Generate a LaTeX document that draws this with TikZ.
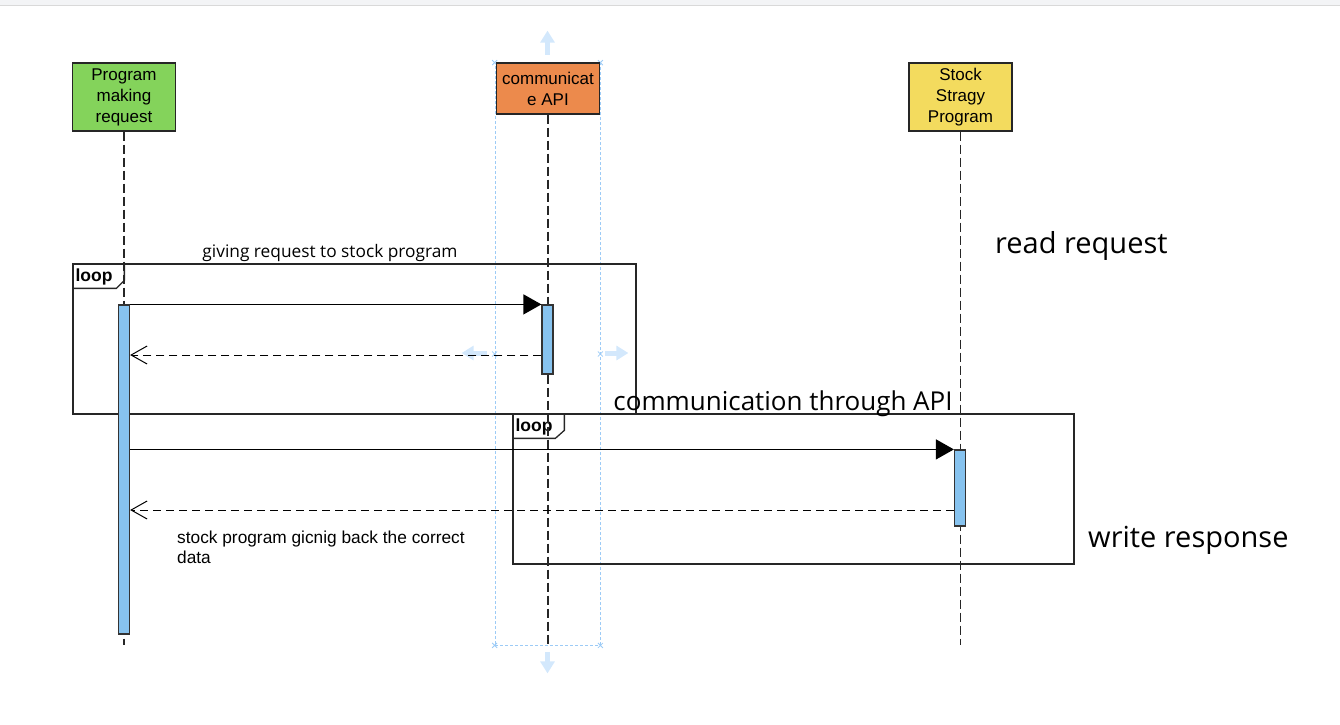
\documentclass[tikz,border=0pt]{standalone}
\usepackage{fontspec}
\setmainfont{Liberation Sans}
\newfontfamily\opensans{Open Sans}
\usepackage{xcolor}
\usetikzlibrary{arrows.meta,positioning}

\definecolor{progreen}{HTML}{84D35B}
\definecolor{apiorange}{HTML}{EC8A4C}
\definecolor{stockyellow}{HTML}{F3DB5E}
\definecolor{barblue}{HTML}{87C3EF}
\definecolor{selblue}{HTML}{9CCBF6}
\definecolor{gripblue}{HTML}{D3E8FC}
\definecolor{topgray}{HTML}{F3F4F6}

\begin{document}
\begin{tikzpicture}[x=1pt,y=-1pt,
	head/.style={draw=black!85, line width=1.3pt, minimum width=103, minimum height=68, inner sep=0pt, align=center, font=\fontsize{17}{21}\selectfont},
	bar/.style={draw=black!80, line width=1.2pt, fill=barblue, minimum width=11, inner sep=0pt},
	life/.style={black!85, line width=1.2pt, dash pattern=on 9pt off 4pt},
	frame/.style={draw=black!85, line width=1.3pt, inner sep=0pt},
	looptag/.style={inner sep=0pt, anchor=west, font=\fontsize{17.5}{19}\selectfont\bfseries},
	call/.style={black, line width=1.2pt, -{Triangle[length=18,width=20]}},
	reply/.style={black, line width=1pt, dash pattern=on 8pt off 5pt, -{Straight Barb[length=16,width=18]}},
	bigtext/.style={inner sep=0pt, font=\opensans\fontsize{29}{34}\selectfont},
	apitext/.style={inner sep=0pt, font=\opensans\fontsize{26}{30}\selectfont},
	midtext/.style={inner sep=0pt, font=\opensans\fontsize{17.3}{20}\selectfont},
	plaintext/.style={inner sep=0pt, align=left, font=\fontsize{17.3}{19.5}\selectfont},
	select/.style={draw=selblue, line width=0.8pt, dash pattern=on 3pt off 2pt, inner sep=0pt},
	grip/.style={draw=gripblue, line width=5pt, -{Triangle[length=12,width=14]}}]
	\useasboundingbox (0,0) rectangle (1340,724);
	\fill[topgray] (0,0) rectangle (1340,5);
	\draw[black!15, line width=1pt] (0,5.5) -- (1340,5.5);

	\node[select, minimum width=105, minimum height=582] (apisel) at (547.5,354) {};
	\foreach \a in {north west,north east,south west,south east,west,east}
	{
		\draw[selblue, line width=0.8pt] (apisel.\a) +(-2.5,-2.5) -- +(2.5,2.5) +(-2.5,2.5) -- +(2.5,-2.5);
	}
	\draw[grip] ([shift={(0,-8)}]apisel.north) -- ++(0,-24);
	\draw[grip] ([shift={(0,7)}]apisel.south) -- ++(0,21);
	\draw[grip] ([shift={(-8,-1)}]apisel.west) -- ++(-25,0);
	\draw[grip] ([shift={(5,-1)}]apisel.east) -- ++(23,0);

	\node[frame, minimum width=563, minimum height=150] (loopa) at (354.5,339) {};
	\node[frame, minimum width=561, minimum height=150] (loopb) at (793.5,489) {};
	\draw[frame] (loopa.north west) ++(0,25) -- ++(44,0) -- ++(8,-8) -- ++(0,-17);
	\draw[frame] (loopb.north west) ++(0,25) -- ++(43,0) -- ++(9,-8) -- ++(0,-17);
	\node[looptag] (loopatag) at ([shift={(3,14)}]loopa.north west) {loop};
	\node[looptag] (loopbtag) at ([shift={(3,14)}]loopb.north west) {loop};

	\node[head, fill=progreen] (prog) at (124,97) {Program\\making\\request};
	\node[head, fill=apiorange, minimum height=51] (api) at (548,88.5) {communicat\\e API};
	\node[head, fill=stockyellow] (stock) at (960.5,97) {Stock\\Stragy\\Program};

	\coordinate (progend) at (124,645);
	\coordinate (apiend) at (548,645);
	\coordinate (stockend) at (960.5,645);
	\draw[life] (prog.south) -- (progend);
	\draw[life] (api.south) -- (apiend);
	\draw[life] (stock.south) -- (stockend);

	\node[bar, minimum height=329] (progbar) at (124,469.5) {};
	\node[bar, minimum height=69] (apibar) at (547.5,339.5) {};
	\node[bar, minimum height=76] (stockbar) at (960,488) {};

	\coordinate (backa) at (0,355);
	\coordinate (backb) at (0,510);
	\draw[call] (progbar.north east) -- (apibar.north west);
	\draw[reply] (apibar.west |- backa) -- (progbar.east |- backa);
	\draw[call] (progbar.east |- stockbar.north) -- (stockbar.north west);
	\draw[reply] (stockbar.west |- backb) -- (progbar.east |- backb);

	\node[midtext] (givelabel) at (330,252.5) {giving request to stock program};
	\node[bigtext, anchor=west] (readlabel) at (995,246) {read request};
	\node[apitext] (apilabel) at (783,404) {communication through API};
	\node[bigtext, anchor=west] (writelabel) at (1088,540) {write response};
	\node[plaintext, anchor=north west] (backlabel) at (177,531) {stock program gicnig back the correct\\data};
\end{tikzpicture}
\end{document}
